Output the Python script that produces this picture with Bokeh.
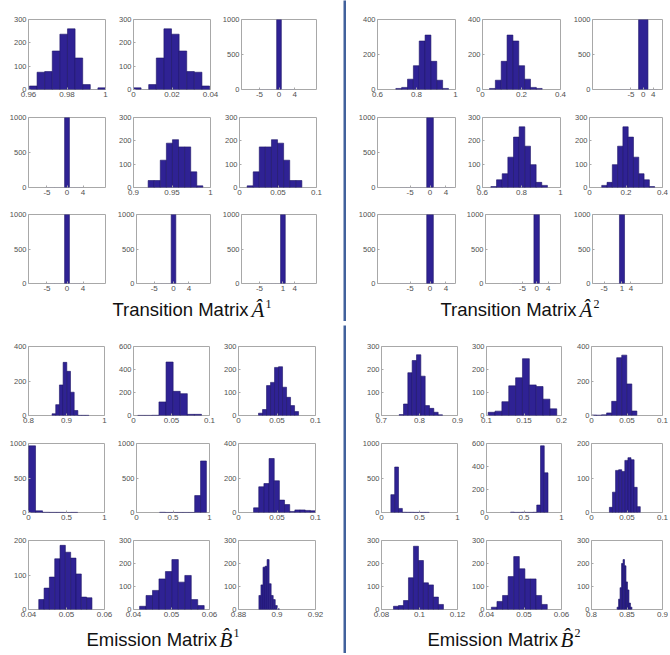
import numpy as np
from bokeh.plotting import figure
from bokeh.layouts import row, column
from bokeh.models import Range1d, FixedTicker, CustomJSTickFormatter
from bokeh.core.properties import value
from bokeh.embed import file_html
from bokeh.resources import INLINE

# ---------------- data ----------------
# Transition matrix A^1 : 3x3 panels, row-major
A1_xlim = [(0.96, 1.0), (0.0, 0.04), (-9.6, 9.6),
           (-9.6, 9.6), (0.9, 1.0), (0.0, 0.1),
           (-9.6, 9.6), (-9.6, 9.6), (-9.6, 9.6)]
A1_xticks = [[0.96, 0.98, 1], [0, 0.02, 0.04], [-5, 0, 4],
             [-5, 0, 4], [0.9, 0.95, 1], [0, 0.05, 0.1],
             [-5, 0, 4], [-5, 0, 4], [-5, 1, 4]]
A1_yticks = [[0, 100, 200, 300], [0, 100, 200, 300], [0, 500, 1000],
             [0, 500, 1000], [0, 100, 200, 300], [0, 100, 200, 300],
             [0, 500, 1000], [0, 500, 1000], [0, 500, 1000]]
A1_bin_start = [0.9605, 0.0, -5.4, -5.4, 0.919, 0.0099, -5.4, -5.4, -4.4]
A1_bin_width = [0.00395, 0.00395, 1.2, 1.2, 0.0079, 0.0079, 1.2, 1.2, 1.2]
A1_counts = [[15, 74, 77, 165, 237, 260, 135, 21, 0, 7],
             [7, 0, 21, 135, 260, 237, 165, 77, 74, 15],
             [0, 0, 0, 0, 1000, 0, 0, 0],
             [0, 0, 0, 0, 1000, 0, 0, 0],
             [30, 30, 117, 190, 205, 174, 174, 67, 7],
             [7, 67, 174, 174, 205, 190, 117, 30, 30],
             [0, 0, 0, 0, 1000, 0, 0, 0],
             [0, 0, 0, 0, 1000, 0, 0, 0],
             [0, 0, 0, 0, 1000, 0, 0, 0]]

# Transition matrix A^2
A2_xlim = [(0.6, 1.0), (0.0, 0.4), (-20.6, 7.8),
           (-13.2, 6.4), (0.6, 1.0), (0.0, 0.4),
           (-13.2, 6.4), (-17.8, 8.3), (-8.9, 14.6)]
A2_xticks = [[0.6, 0.8, 1], [0, 0.2, 0.4], [-5, 0, 4],
             [-5, 0, 4], [0.6, 0.8, 1], [0, 0.2, 0.4],
             [-5, 0, 4], [-5, 0, 4], [-5, 1, 4]]
A2_yticks = [[0, 200, 400], [0, 200, 400], [0, 500, 1000],
             [0, 500, 1000], [0, 100, 200, 300], [0, 100, 200, 300],
             [0, 500, 1000], [0, 500, 1000], [0, 500, 1000]]
A2_bin_start = [0.694, 0.036, -13.3, -7.47, 0.643, 0.067, -7.47, -8.55, -8.35]
A2_bin_width = [0.03, 0.03, 3.8, 1.66, 0.029, 0.029, 1.66, 1.9, 1.7]
A2_counts = [[6, 12, 59, 136, 277, 311, 161, 53, 6],
             [6, 53, 161, 311, 277, 136, 59, 12, 6],
             [0, 0, 0, 1000, 0],
             [0, 0, 0, 0, 1000, 0, 0, 0],
             [4, 33, 59, 130, 216, 260, 177, 98, 22, 9],
             [9, 22, 98, 177, 260, 216, 130, 59, 33, 4],
             [0, 0, 0, 0, 1000, 0, 0, 0],
             [0, 0, 0, 0, 1000, 0, 0, 0],
             [0, 0, 0, 0, 0, 1000, 0, 0, 0]]

# Emission matrix B^1
B1_xlim = [(0.8, 1.0), (0.0, 0.1), (0.0, 0.1),
           (0.0, 1.0), (0.0, 1.0), (0.0, 0.1),
           (0.04, 0.06), (0.04, 0.06), (0.88, 0.92)]
B1_xticks = [[0.8, 0.9, 1], [0, 0.05, 0.1], [0, 0.05, 0.1],
             [0, 0.5, 1], [0, 0.5, 1], [0, 0.05, 0.1],
             [0.04, 0.05, 0.06], [0.04, 0.05, 0.06], [0.88, 0.9, 0.92]]
B1_yticks = [[0, 200, 400], [0, 200, 400, 600], [0, 100, 200, 300],
             [0, 500, 1000], [0, 500, 1000], [0, 200, 400],
             [0, 100, 200], [0, 100, 200, 300], [0, 100, 200, 300]]
B1_bin_start = [0.862, 0.0055, 0.026, 0.0, 0.316, 0.0196, 0.0427, 0.0416, 0.8906]
B1_bin_width = [0.0097, 0.00933, 0.0052, 0.0925, 0.0802, 0.0067, 0.0014, 0.0017, 0.00106]
B1_counts = [[10, 63, 177, 308, 256, 135, 29, 1, 1, 1],
             [1, 1, 2, 118, 465, 210, 190, 10, 10],
             [10, 26, 130, 144, 209, 212, 123, 79, 43, 17],
             [966, 24, 3, 2, 2, 1, 2],
             [3, 1, 1, 1, 1, 1, 245, 747],
             [27, 149, 168, 313, 184, 72, 46, 6, 15, 15, 12, 10],
             [29, 62, 94, 147, 186, 166, 149, 103, 36, 34],
             [14, 61, 83, 133, 165, 217, 119, 148, 43, 17],
             [61, 107, 184, 188, 217, 112, 61, 43, 17, 3]]

# Emission matrix B^2
B2_xlim = [(0.7, 0.9), (0.1, 0.2), (0.0, 0.1),
           (0.0, 1.0), (0.0, 1.0), (0.0, 0.1),
           (0.08, 0.12), (0.04, 0.06), (0.8, 0.9)]
B2_xticks = [[0.7, 0.8, 0.9], [0.1, 0.15, 0.2], [0, 0.05, 0.1],
             [0, 0.5, 1], [0, 0.5, 1], [0, 0.05, 0.1],
             [0.08, 0.1, 0.12], [0.04, 0.05, 0.06], [0.8, 0.85, 0.9]]
B2_yticks = [[0, 100, 200, 300], [0, 100, 200, 300], [0, 200, 400],
             [0, 500, 1000], [0, 200, 400, 600], [0, 100, 200],
             [0, 100, 200, 300], [0, 100, 200, 300], [0, 100, 200, 300]]
B2_bin_start = [0.7465, 0.1022, 0.0, 0.123, 0.32, 0.0252, 0.0863, 0.0413, 0.836]
B2_bin_width = [0.0114, 0.00915, 0.0071, 0.0505, 0.05, 0.00435, 0.00263, 0.00149, 0.0021]
B2_counts = [[4, 50, 186, 239, 264, 171, 43, 31, 14, 3],
             [14, 19, 60, 129, 164, 247, 133, 126, 71, 29],
             [3, 2, 4, 15, 82, 335, 350, 183, 26],
             [259, 659, 59, 4, 3, 3, 2, 2, 2, 2],
             [3, 1, 1, 2, 1, 1, 2, 65, 580, 345],
             [15, 59, 122, 124, 119, 151, 159, 153, 73, 17],
             [14, 17, 39, 138, 275, 213, 116, 107, 54, 22],
             [10, 35, 61, 143, 230, 177, 133, 133, 61, 22],
             [10, 45, 95, 200, 217, 190, 120, 85, 28, 10]]

TITLE_MAIN = ["Transition Matrix", "Transition Matrix", "Emission Matrix", "Emission Matrix"]
TITLE_SYM = ["\u00c2", "\u00c2", "B\u0302", "B\u0302"]
TITLE_SUP = ["1", "2", "1", "2"]

# ---------------- style / layout ----------------
FILL = "#2f2294"
EDGE = "#1c1466"
ZERO_EDGE = "#9a9aa8"
BOX = "#a8a8a8"
TICK_TXT = "#505050"
DIVIDER = "#41619c"
DIVIDER_LIGHT = "#b3c4e2"
SANS = "Liberation Sans"
SERIF = "Liberation Serif"

LEFT_W, DIV_W, RIGHT_W = 343, 3, 322
TOP_ROWS = [(103, 19, 14), (98, 14, 14), (94, 13, 12)]
TOP_TITLE = (26, 12, 18)      # height, y of main text, y of superscript
BOT_ROWS = [(104, 21, 14), (97, 14, 14), (96, 14, 13)]
BOT_TITLE = (31, 14, 21)
COLS = {
    "A1": [(114, 28, 9), (105, 19, 9), (124, 20, 27)],
    "A2": [(117, 31, 8), (107, 19, 10), (98, 19, 6)],
    "B1": [(114, 28, 10), (105, 19, 10), (124, 19, 28)],
    "B2": [(121, 35, 10), (105, 19, 11), (96, 19, 6)],
}
TITLE_POS = {  # x of main text, x of symbol, x of superscript (within quadrant)
    "A1": (112, 251, 265),
    "A2": (94, 233, 247),
    "B1": (86, 219, 233),
    "B2": (81, 214, 228),
}

fmt_code = "return tick.toString()"


def hist_panel(w, h, ml, mr, mt, mb, xlim, xticks, yticks, start, bw, counts):
    p = figure(width=w, height=h, x_range=Range1d(*xlim), y_range=Range1d(0, yticks[-1]),
               toolbar_location=None, output_backend="svg",
               min_border_left=ml, min_border_right=mr,
               min_border_top=mt, min_border_bottom=mb)
    counts = np.asarray(counts, dtype=float)
    edges = start + bw * np.arange(len(counts) + 1)
    lc = [EDGE if c > 0 else ZERO_EDGE for c in counts]
    p.quad(left=edges[:-1], right=edges[1:], bottom=0, top=counts,
           fill_color=FILL, line_color=lc, line_width=0.6)
    p.grid.visible = False
    p.outline_line_color = BOX
    p.outline_line_width = 1
    p.xaxis.ticker = FixedTicker(ticks=list(xticks))
    p.yaxis.ticker = FixedTicker(ticks=list(yticks))
    for ax in (p.xaxis[0], p.yaxis[0]):
        ax.formatter = CustomJSTickFormatter(code=fmt_code)
        ax.axis_line_color = None
        ax.major_tick_in = 2
        ax.major_tick_out = 0
        ax.major_tick_line_color = BOX
        ax.minor_tick_line_color = None
        ax.major_label_text_font = SANS
        ax.major_label_text_color = TICK_TXT
        ax.major_label_standoff = 2
    p.xaxis.major_label_text_font_size = "8px"
    p.yaxis.major_label_text_font_size = "7.5px"
    return p


def plain_fig(w, h, color):
    f = figure(width=w, height=h, x_range=Range1d(0, w), y_range=Range1d(0, h),
               x_axis_type=None, y_axis_type=None,
               toolbar_location=None, output_backend="svg", min_border=0)
    f.grid.visible = False
    f.outline_line_color = None
    f.background_fill_color = color
    f.border_fill_color = color
    return f


def title_fig(w, spec, key, idx):
    h, yb, ys = spec
    f = plain_fig(w, h, "white")
    xm, xs, xsup = TITLE_POS[key]
    f.text(x=[xm], y=[yb], text=[TITLE_MAIN[idx]], text_font=value(SANS),
           text_font_size=value("18.5px"), text_color="#111111", text_baseline="alphabetic")
    f.text(x=[xs], y=[yb], text=[TITLE_SYM[idx]], text_font=value(SERIF),
           text_font_style="italic", text_font_size=value("21px"),
           text_color="#111111", text_baseline="alphabetic")
    f.text(x=[xsup], y=[ys], text=[TITLE_SUP[idx]], text_font=value(SERIF),
           text_font_size=value("12px"), text_color="#111111", text_baseline="alphabetic")
    return f


def quadrant(key, idx, rows_spec, tspec, xlim, xticks, yticks, starts, widths, counts):
    cols_spec = COLS[key]
    rws = []
    for r, (h, mt, mb) in enumerate(rows_spec):
        figs = []
        for c, (w, ml, mr) in enumerate(cols_spec):
            k = 3 * r + c
            figs.append(hist_panel(w, h, ml, mr, mt, mb, xlim[k], xticks[k], yticks[k],
                                   starts[k], widths[k], counts[k]))
        rws.append(row(*figs))
    tw = sum(w for w, _, _ in cols_spec)
    rws.append(title_fig(tw, tspec, key, idx))
    return column(*rws)


qa1 = quadrant("A1", 0, TOP_ROWS, TOP_TITLE, A1_xlim, A1_xticks, A1_yticks,
               A1_bin_start, A1_bin_width, A1_counts)
qa2 = quadrant("A2", 1, TOP_ROWS, TOP_TITLE, A2_xlim, A2_xticks, A2_yticks,
               A2_bin_start, A2_bin_width, A2_counts)
qb1 = quadrant("B1", 2, BOT_ROWS, BOT_TITLE, B1_xlim, B1_xticks, B1_yticks,
               B1_bin_start, B1_bin_width, B1_counts)
qb2 = quadrant("B2", 3, BOT_ROWS, BOT_TITLE, B2_xlim, B2_xticks, B2_yticks,
               B2_bin_start, B2_bin_width, B2_counts)

top_h = sum(h for h, _, _ in TOP_ROWS) + TOP_TITLE[0]
bot_h = sum(h for h, _, _ in BOT_ROWS) + BOT_TITLE[0]
total_w = LEFT_W + DIV_W + RIGHT_W

layout = column(
    row(qa1, plain_fig(DIV_W, top_h, DIVIDER), qa2),
    plain_fig(total_w, 3, DIVIDER),
    plain_fig(total_w, 1, DIVIDER_LIGHT),
    row(qb1, plain_fig(DIV_W, bot_h, DIVIDER), qb2),
)

open("out.html", "w").write(file_html(layout, INLINE))
